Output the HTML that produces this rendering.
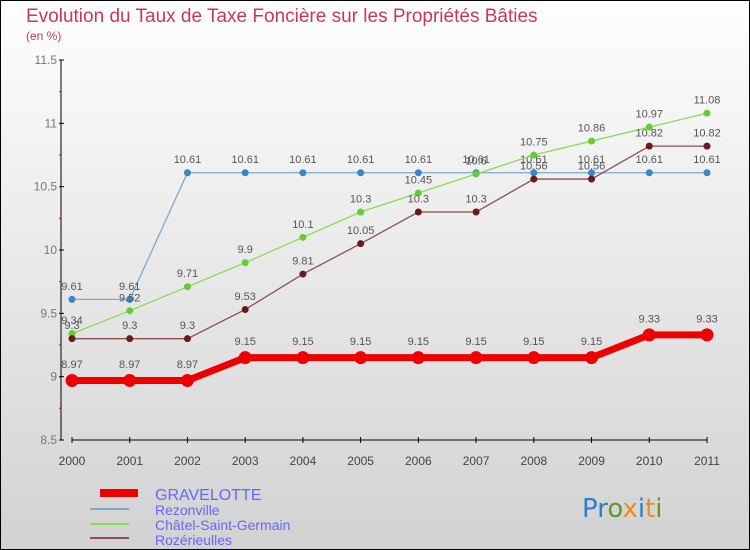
<!DOCTYPE html>
<html><head><meta charset="utf-8"><style>
body{margin:0}
#c{width:750px;height:550px;position:relative;box-sizing:border-box;border:1px solid #000;background:linear-gradient(#fefefe,#d2d2d2);font-family:"Liberation Sans",sans-serif;overflow:hidden}
</style></head><body>
<div id="c">
<svg width="750" height="550" style="position:absolute;left:-1px;top:-1px" id="svg">
<text x="26" y="22" font-size="19" fill="#c8385e">Evolution du Taux de Taxe Foncière sur les Propriétés Bâties</text>
<text x="26" y="40" font-size="12" fill="#c8385e">(en %)</text>
<g id="axes"></g><g id="series"></g>
<g>
<rect x="100" y="489" width="38" height="8" fill="#e00"/>
<text x="155" y="500" font-size="16" fill="#6666ff">GRAVELOTTE</text>
<line x1="90" y1="509" x2="129" y2="509" stroke="#7fa8cc" stroke-width="2"/>
<text x="155" y="515" font-size="14" fill="#6666ff">Rezonville</text>
<line x1="90" y1="524" x2="129" y2="524" stroke="#88dd55" stroke-width="2"/>
<text x="155" y="530" font-size="14" fill="#6666ff">Châtel-Saint-Germain</text>
<line x1="90" y1="538" x2="129" y2="538" stroke="#8b5050" stroke-width="2"/>
<text x="155" y="545" font-size="14" fill="#6666ff">Rozérieulles</text>
</g>
<text x="582" y="517" font-size="26" font-family="DejaVu Sans,sans-serif"><tspan fill="#2a7fd0">Pr</tspan><tspan fill="#5a9a2a">o</tspan><tspan fill="#f08a20">x</tspan><tspan fill="#2a7fd0">i</tspan><tspan fill="#f08a20">t</tspan><tspan fill="#5a9a2a">i</tspan></text>
</svg>
</div>
<script>
const years=[2000,2001,2002,2003,2004,2005,2006,2007,2008,2009,2010,2011];
const gravelotte=[8.97,8.97,8.97,9.15,9.15,9.15,9.15,9.15,9.15,9.15,9.33,9.33];
const rezonville=[9.61,9.61,10.61,10.61,10.61,10.61,10.61,10.61,10.61,10.61,10.61,10.61];
const chatel=[9.34,9.52,9.71,9.9,10.1,10.3,10.45,10.6,10.75,10.86,10.97,11.08];
const rozerieulles=[9.3,9.3,9.3,9.53,9.81,10.05,10.3,10.3,10.56,10.56,10.82,10.82];
const yTicks=["8.5","9","9.5","10","10.5","11","11.5"];
const NS="http://www.w3.org/2000/svg";
const x=i=>72+i*(707-72)/11;
const y=v=>440-(v-8.5)*(380/3);
function mk(t,a,p){const e=document.createElementNS(NS,t);for(const k in a)e.setAttribute(k,a[k]);p.appendChild(e);return e;}
const ax=document.getElementById('axes');
let l=mk('line',{x1:61,y1:60,x2:61,y2:440,stroke:'#000'},ax);


l=mk('line',{x1:72,y1:440,x2:707,y2:440,stroke:'#000'},ax);


yTicks.forEach(t=>{const yy=y(+t);mk('line',{x1:59,y1:yy,x2:64,y2:yy,stroke:'#000'},ax);
const tx=mk('text',{x:57,y:yy+4,'font-size':12,fill:'#777','text-anchor':'end'},ax);tx.textContent=t;


if(+t<11.5)mk('line',{x1:59,y1:yy-31.7,x2:61,y2:yy-31.7,stroke:'#d00'},ax);});
years.forEach((yr,i)=>{mk('line',{x1:x(i),y1:437,x2:x(i),y2:443,stroke:'#000'},ax);
const tx=mk('text',{x:x(i),y:465,'font-size':12,fill:'#444','text-anchor':'middle'},ax);tx.textContent=yr;

});
const sg=document.getElementById('series');
function draw(vals,name,col,dot,w,r){
const g=mk('g',{},sg);


mk('polyline',{points:vals.map((v,i)=>x(i)+','+y(v)).join(' '),fill:'none',stroke:col,'stroke-width':w},g);
vals.forEach((v,i)=>{const c=mk('circle',{cx:x(i),cy:y(v),r:r,fill:dot},g);


const t=mk('text',{x:x(i),y:y(v)-(r+6),'font-size':11,fill:'#555','text-anchor':'middle'},g);t.textContent=String(v);

});}
draw(rezonville,'rezonville','#7fa8cc','#3a85c8',1.3,3.5);
draw(chatel,'chatel','#88dd55','#66cc33',1.3,3.5);
draw(rozerieulles,'rozerieulles','#8b5050','#6a1a1a',1.3,3.5);
draw(gravelotte,'gravelotte','#ee0000','#ee0000',7,6.5);
</script>
</body></html>
